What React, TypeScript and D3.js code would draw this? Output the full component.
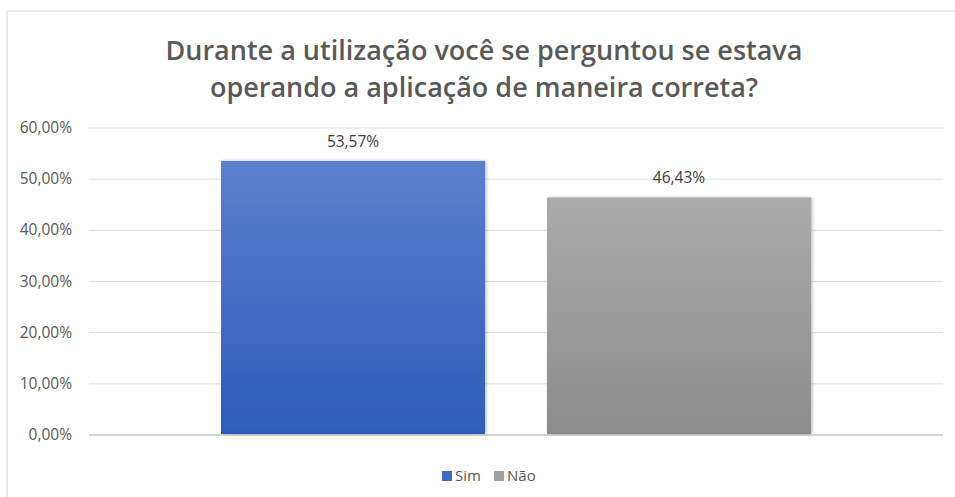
import React from "react";
import * as d3 from "d3";

const seriesNames = ["Sim", "Não"];
const values = [53.57, 46.43];
const tickValues = [0, 10, 20, 30, 40, 50, 60];
const titleLines = [
  "Durante a utilização você se perguntou se estava",
  "operando a aplicação de maneira correta?",
];
const gradTop = ["#5b80cc", "#ababab"];
const gradBottom = ["#2c5db8", "#8c8c8c"];
const legendColors = ["#3a6bc8", "#a0a0a0"];

const W = 955;
const H = 497;
const plotLeft = 89;
const plotRight = 943;
const yTop = 128;
const yBottom = 435;

const fmt = (v: number) => v.toFixed(2).replace(".", ",") + "%";

export default function App() {
  const y = d3.scaleLinear().domain([0, 60]).range([yBottom, yTop]);
  const x = d3
    .scaleBand<string>()
    .domain(seriesNames)
    .range([plotLeft, plotRight])
    .paddingInner(0.19)
    .paddingOuter(0.405);
  const font = "'Open Sans', sans-serif";
  return (
    <svg
      width={W}
      height={H}
      style={{ position: "absolute", left: 0, top: 0, background: "#fff" }}
    >
      <defs>
        {seriesNames.map((s, i) => (
          <linearGradient key={s} id={`g${i}`} x1="0" y1="0" x2="0" y2="1">
            <stop offset="0%" stopColor={gradTop[i]} />
            <stop offset="100%" stopColor={gradBottom[i]} />
          </linearGradient>
        ))}
        <filter id="sh" x="-10%" y="-10%" width="120%" height="120%">
          <feDropShadow dx="1.5" dy="0" stdDeviation="1.5" floodColor="#000" floodOpacity="0.25" />
        </filter>
      </defs>
      <rect x={0} y={0} width={W} height={H} fill="#fff" />
      {/* chart border */}
      <line x1={7} y1={11} x2={W} y2={11} stroke="#e3e3e3" strokeWidth={1.5} />
      <line x1={7} y1={11} x2={7} y2={H} stroke="#e3e3e3" strokeWidth={1.5} />
      {/* title */}
      <text
        x={484}
        textAnchor="middle"
        fontFamily={font}
        fontWeight={600}
        fontSize={27}
        fill="#595959"
      >
        {titleLines.map((l, i) => (
          <tspan key={i} x={484} y={60 + i * 37}>
            {l}
          </tspan>
        ))}
      </text>
      {/* gridlines */}
      {tickValues.map((t) => (
        <g key={t}>
          <line
            x1={plotLeft}
            x2={plotRight}
            y1={y(t)}
            y2={y(t)}
            stroke={t === 0 ? "#d4d4d4" : "#dedede"}
            strokeWidth={t === 0 ? 2 : 1}
          />
          <text
            x={72}
            y={y(t) + 5}
            textAnchor="end"
            fontFamily={font}
            fontSize={15.5}
            fill="#595959"
          >
            {fmt(t)}
          </text>
        </g>
      ))}
      {/* bars */}
      {seriesNames.map((s, i) => (
        <g key={s}>
          <rect
            x={x(s)}
            y={y(values[i])}
            width={x.bandwidth()}
            height={y(0) - y(values[i]) - 1}
            fill={`url(#g${i})`}
            filter="url(#sh)"
          />
          <text
            x={(x(s) as number) + x.bandwidth() / 2}
            y={y(values[i]) - 14}
            textAnchor="middle"
            fontFamily={font}
            fontSize={15.5}
            fill="#404040"
          >
            {fmt(values[i])}
          </text>
        </g>
      ))}
      {/* legend */}
      {seriesNames.map((s, i) => {
        const lx = [442, 494][i];
        return (
          <g key={s}>
            <rect x={lx} y={471} width={10} height={10} fill={legendColors[i]} />
            <text x={lx + 13} y={481} fontFamily={font} fontSize={15} fill="#595959">
              {s}
            </text>
          </g>
        );
      })}
    </svg>
  );
}
